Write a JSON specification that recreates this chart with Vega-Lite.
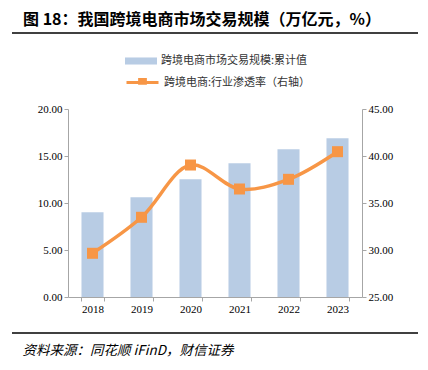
{
  "$schema": "https://vega.github.io/schema/vega-lite/v6.json",
  "autosize": {"type": "none"},
  "width": 294,
  "height": 188,
  "padding": {"left": 68, "top": 109, "right": 66, "bottom": 73},
  "background": "white",
  "title": {
    "text": "图 18：我国跨境电商市场交易规模（万亿元，%）",
    "anchor": "start",
    "frame": "group",
    "dx": -45,
    "offset": 4,
    "font": "Noto Sans CJK SC",
    "fontSize": 16,
    "fontWeight": "bold",
    "color": "#000000"
  },
  "config": {
    "view": {"stroke": null},
    "axis": {
      "labelFont": "Liberation Serif",
      "labelFontSize": 11,
      "labelColor": "#000000",
      "domainColor": "#A6A6A6",
      "tickColor": "#A6A6A6",
      "tickSize": 4,
      "grid": false
    },
    "legend": {
      "labelFont": "Noto Sans CJK SC",
      "labelFontSize": 11,
      "labelColor": "#333333",
      "padding": 0
    }
  },
  "data": {
    "values": [
      {"year": "2018", "scale": 9.01, "rate": 29.65, "s1": "跨境电商市场交易规模:累计值", "s2": "跨境电商:行业渗透率（右轴）"},
      {"year": "2019", "scale": 10.6, "rate": 33.48, "s1": "跨境电商市场交易规模:累计值", "s2": "跨境电商:行业渗透率（右轴）"},
      {"year": "2020", "scale": 12.52, "rate": 39.04, "s1": "跨境电商市场交易规模:累计值", "s2": "跨境电商:行业渗透率（右轴）"},
      {"year": "2021", "scale": 14.22, "rate": 36.49, "s1": "跨境电商市场交易规模:累计值", "s2": "跨境电商:行业渗透率（右轴）"},
      {"year": "2022", "scale": 15.71, "rate": 37.52, "s1": "跨境电商市场交易规模:累计值", "s2": "跨境电商:行业渗透率（右轴）"},
      {"year": "2023", "scale": 16.88, "rate": 40.46, "s1": "跨境电商市场交易规模:累计值", "s2": "跨境电商:行业渗透率（右轴）"}
    ]
  },
  "encoding": {
    "x": {
      "field": "year",
      "type": "ordinal",
      "scale": {"paddingInner": 0.55, "paddingOuter": 0.275},
      "axis": {
        "labelAngle": 0,
        "tickBand": "extent",
        "title": "资料来源：同花顺 iFinD，财信证券",
        "titleFont": "Noto Sans CJK SC",
        "titleFontStyle": "italic",
        "titleFontWeight": "normal",
        "titleFontSize": 13.5,
        "titleColor": "#000000",
        "titleAnchor": "start",
        "titleAlign": "left",
        "titleBaseline": "middle",
        "titleX": -46,
        "titleY": 53
      }
    }
  },
  "layer": [
    {
      "mark": {"type": "bar", "color": "#B8CCE4"},
      "encoding": {
        "y": {
          "field": "scale",
          "type": "quantitative",
          "scale": {"domain": [0, 20]},
          "axis": {"title": null, "format": ".2f", "values": [0, 5, 10, 15, 20]}
        },
        "fill": {
          "field": "s1",
          "type": "nominal",
          "scale": {"range": ["#B8CCE4"]},
          "legend": {
            "title": null,
            "orient": "none",
            "legendX": 57,
            "legendY": -64,
            "symbolType": "M-1,-0.22H1V0.22H-1Z",
            "symbolSize": 1024,
            "symbolStrokeWidth": 0
          }
        }
      }
    },
    {
      "mark": {"type": "line", "color": "#F79646", "strokeWidth": 3.5, "interpolate": "catmull-rom"},
      "encoding": {
        "y": {
          "field": "rate",
          "type": "quantitative",
          "scale": {"domain": [25, 45]},
          "axis": {"title": null, "orient": "right", "format": ".2f", "values": [25, 30, 35, 40, 45]}
        },
        "stroke": {
          "field": "s2",
          "type": "nominal",
          "scale": {"range": ["#F79646"]},
          "legend": {
            "title": null,
            "orient": "none",
            "legendX": 57,
            "legendY": -44,
            "symbolType": "M-1,0H1M-0.18,-0.18H0.18V0.05H-0.18Z",
            "symbolSize": 1024,
            "symbolStrokeWidth": 3,
            "symbolFillColor": "#F79646"
          }
        }
      }
    },
    {
      "mark": {"type": "square", "color": "#F79646", "opacity": 1, "size": 121},
      "encoding": {
        "y": {"field": "rate", "type": "quantitative", "scale": {"domain": [25, 45]}, "axis": null}
      }
    },
    {
      "data": {"values": [{"k": "top"}]},
      "mark": {"type": "rule", "color": "#000000", "strokeWidth": 1.5},
      "encoding": {"x": {"value": -56}, "x2": {"value": 350}, "y": {"value": -76}}
    },
    {
      "data": {"values": [{"k": "bottom"}]},
      "mark": {"type": "rule", "color": "#404040", "strokeWidth": 2},
      "encoding": {"x": {"value": -56}, "x2": {"value": 350}, "y": {"value": 224}}
    }
  ],
  "resolve": {"scale": {"y": "independent", "fill": "independent", "stroke": "independent"}}
}
